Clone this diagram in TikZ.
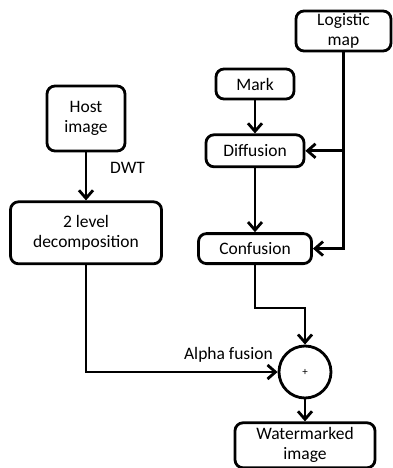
\documentclass[tikz,border=0pt]{standalone}
\usepackage{fontspec}
\setmainfont{Carlito}
\usetikzlibrary{positioning,arrows.meta}
\tikzset{
  block/.style={draw, line width=2.8pt, rounded corners=8pt, align=center,
    inner sep=2pt, font=\fontsize{17.5}{20}\selectfont},
  sumnode/.style={draw, circle, line width=2.8pt, minimum size=52pt,
    inner sep=0pt, font=\fontsize{11}{12}\selectfont},
  arr/.style={line width=2.8pt, -{Straight Barb[length=8pt,width=14pt,line width=2.8pt]}},
  lbl/.style={font=\fontsize{17.5}{20}\selectfont, inner sep=0pt}
}

\begin{document}
\begin{tikzpicture}
  \useasboundingbox (0,0) rectangle (392pt,-468pt);

  \node[block, minimum width=95pt, minimum height=40pt] (logistic) at (343.5pt,-31pt) {Logistic\\map};
  \node[block, minimum width=78pt, minimum height=30pt] (mark) at (255pt,-84pt) {Mark};
  \node[block, minimum width=98pt, minimum height=32pt, below=33pt of mark] (diffusion) {Diffusion};
  \node[block, minimum width=113pt, minimum height=30pt, below=64pt of diffusion] (confusion) {Confusion};

  \node[block, minimum width=78pt, minimum height=65pt] (host) at (86pt,-118.5pt) {Host\\image};
  \node[block, minimum width=151pt, minimum height=62pt, below=48pt of host] (decomp) {2 level\\decomposition};

  \node[sumnode] (sum) at (305pt,-372pt) {+};
  \node[block, minimum width=140pt, minimum height=45pt, below=22pt of sum] (watermarked) {Watermarked\\image};

  \node[lbl, anchor=west] (dwt) at (110pt,-168pt) {DWT};
  \node[lbl, anchor=east] (alpha) at (273pt,-355pt) {Alpha fusion};

  \draw[arr] (mark) -- (diffusion);
  \draw[arr] (diffusion) -- (confusion);
  \draw[arr] (logistic.south) |- (confusion.east);
  \draw[arr] (logistic.south |- diffusion.east) -- (diffusion.east);
  \draw[arr] (host) -- (decomp);
  \draw[arr] (decomp.south) |- (sum.west);
  \draw[arr] (confusion.south) -- ++(0,-43pt) -| (sum.north);
  \draw[arr] (sum) -- (watermarked);

\end{tikzpicture}
\end{document}
